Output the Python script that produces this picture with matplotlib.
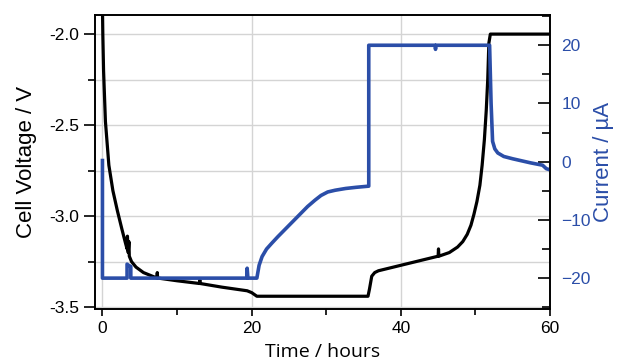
import matplotlib
matplotlib.use("Agg")
import matplotlib.pyplot as plt
from matplotlib.ticker import MultipleLocator

# cell voltage (black, left axis)
time_v = [0.0, 0.05, 0.15, 0.4, 0.86, 1.4, 2.0, 2.6, 3.1, 3.3, 3.35, 3.45, 3.55, 3.6, 3.9,
          4.5, 5.5, 6.7, 7.3, 7.35, 7.4, 10.0, 13.0, 13.05, 13.1, 16.0, 19.4, 20.0, 20.7,
          35.6, 35.8, 36.1, 36.5, 37.0, 38.5, 40.0, 42.0, 44.0, 45.0, 45.05, 45.1, 46.5,
          47.6, 48.3, 48.9, 49.4, 49.8, 50.2, 50.6, 50.9, 51.2, 51.45, 51.65, 51.8, 52.0, 60.0]
voltage = [-1.85, -2.0, -2.2, -2.48, -2.72, -2.86, -2.97, -3.07, -3.15, -3.18, -3.11, -3.2, -3.14, -3.22, -3.25,
           -3.28, -3.31, -3.33, -3.34, -3.31, -3.34, -3.355, -3.37, -3.35, -3.37, -3.39, -3.41, -3.42, -3.44,
           -3.44, -3.40, -3.33, -3.31, -3.30, -3.285, -3.27, -3.25, -3.23, -3.22, -3.18, -3.22, -3.2,
           -3.17, -3.14, -3.10, -3.05, -2.99, -2.92, -2.83, -2.72, -2.58, -2.42, -2.25, -2.05, -2.0, -2.0]

# current (blue, right axis)
time_i = [0.0, 0.0, 3.3, 3.3, 3.5, 3.8, 3.8, 19.35, 19.4, 19.5, 20.7, 21.0, 21.4, 22.0, 22.7,
          23.5, 24.5, 25.5, 26.5, 27.5, 28.5, 29.3, 30.2, 31.2, 32.6, 34.0, 35.7, 35.7,
          44.6, 44.65, 44.7, 51.9, 52.1, 52.3, 52.6, 53.0, 53.8, 55.0, 57.4, 59.0, 59.5, 60.0]
current = [0.2, -20, -20, -17.6, -17.8, -18.0, -20, -20, -18.3, -20, -20, -17.8, -16.3, -15.0, -14.0,
           -12.9, -11.6, -10.3, -9.0, -7.7, -6.6, -5.8, -5.2, -4.9, -4.6, -4.4, -4.2, 20,
           20, 19.3, 20, 20, 10, 3.5, 2.2, 1.5, 0.9, 0.5, -0.2, -0.6, -1.2, -1.4]

blue = "#2b4ea8"
tick_font = "Liberation Sans"

fig = plt.figure(figsize=(6.18, 3.63), dpi=100)
ax = fig.add_axes([0.1537, 0.1488, 0.7363, 0.8099])
ax2 = ax.twinx()

ax.plot(time_v, voltage, color="black", lw=2.3, zorder=3)
ax2.plot(time_i, current, color=blue, lw=2.6, zorder=2)

ax.set_xlim(-1, 60)
ax.set_ylim(-3.51, -1.895)
ax2.set_ylim(-25.3, 25.2)

ax.xaxis.set_major_locator(MultipleLocator(20))
ax.xaxis.set_minor_locator(MultipleLocator(10))
ax.yaxis.set_major_locator(MultipleLocator(0.5))
ax.yaxis.set_minor_locator(MultipleLocator(0.25))
ax.yaxis.set_major_formatter(plt.FormatStrFormatter("%.1f"))
ax2.yaxis.set_major_locator(MultipleLocator(10))
ax2.yaxis.set_minor_locator(MultipleLocator(5))

ax.grid(True, axis="x", which="major", color="#d4d4d4", lw=1)
ax.grid(True, axis="y", which="both", color="#d4d4d4", lw=1)
ax.set_axisbelow(True)

ax.tick_params(axis="y", which="major", direction="out", length=8, width=1.2)
ax.tick_params(axis="y", which="minor", direction="out", length=5, width=1.2)
ax.tick_params(axis="x", which="major", direction="out", length=5, width=1.2)
ax.tick_params(axis="x", which="minor", direction="out", length=4, width=1.2)
ax2.tick_params(axis="y", which="major", direction="in", length=9, width=1.2, pad=8,
                colors="black", labelcolor=blue)
ax2.tick_params(axis="y", which="minor", direction="in", length=6, width=1.2)

for t in ax.get_xticklabels() + ax.get_yticklabels() + ax2.get_yticklabels():
    t.set_fontfamily(tick_font)
    t.set_fontsize(12.5)

for a in (ax, ax2):
    for s in a.spines.values():
        s.set_linewidth(1.2)

ax.set_ylabel("Cell Voltage / V", fontfamily=tick_font, fontsize=16, labelpad=9)
ax2.set_ylabel("Current / µA", fontfamily=tick_font, fontsize=16, color=blue, labelpad=2)
ax.set_xlabel("Time / hours", fontfamily="Open Sans", fontsize=14, labelpad=5)

fig.savefig("out.png", dpi=100)
